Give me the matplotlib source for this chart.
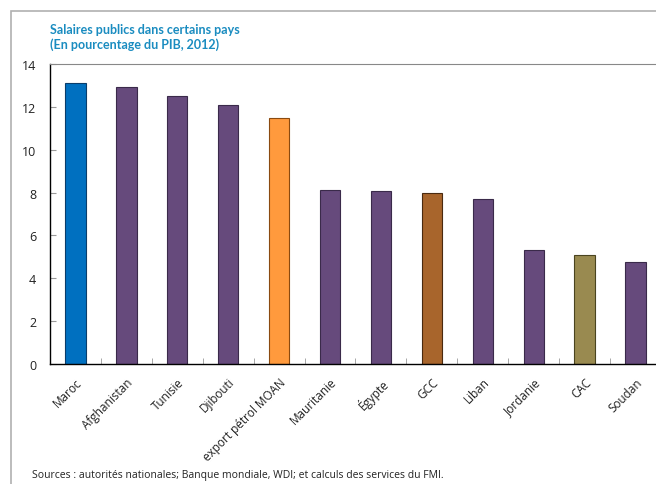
import matplotlib
matplotlib.use("Agg")
import matplotlib.pyplot as plt
from matplotlib.patches import Rectangle
from matplotlib.ticker import MultipleLocator, FixedLocator
from matplotlib.transforms import ScaledTranslation

plt.rcParams['font.family'] = ['Open Sans', 'DejaVu Sans']

pays = ["Maroc", "Afghanistan", "Tunisie", "Djibouti", "export pétrol MOAN",
        "Mauritanie", "Égypte", "GCC", "Liban", "Jordanie", "CAC", "Soudan"]
salaires = [13.1, 12.95, 12.5, 12.1, 11.5, 8.12, 8.08, 8.0, 7.72, 5.3, 5.08, 4.78]
couleurs = ["#0070c0", "#664a7c", "#664a7c", "#664a7c", "#ff9a3d", "#664a7c",
            "#664a7c", "#a8652c", "#664a7c", "#664a7c", "#998a50", "#664a7c"]
bords = ["#0a3d6b", "#3a2a4a", "#3a2a4a", "#3a2a4a", "#8a4a10", "#3a2a4a",
         "#3a2a4a", "#4a2a10", "#3a2a4a", "#3a2a4a", "#4a4420", "#3a2a4a"]

fig = plt.figure(figsize=(6.56, 4.85), dpi=100)
W, H = 656, 485

# cadre gris autour du graphique
fig.patches.append(Rectangle((11 / W, -0.1), 1.2, 1 - 12 / H + 0.1,
                             transform=fig.transFigure, fill=False,
                             edgecolor="#b0b0b0", linewidth=1.2))

ax = fig.add_axes([50 / W, 1 - 365 / H, (661 - 50) / W, (365 - 65) / H])
x = range(len(pays))
ax.bar(x, salaires, width=0.4, color=couleurs, edgecolor=bords, linewidth=0.8)

ax.set_xlim(-0.5, len(pays) - 0.5)
ax.set_ylim(0, 14)
ax.yaxis.set_major_locator(MultipleLocator(2))
ax.set_xticks(list(x))
ax.set_xticklabels(pays, rotation=45, ha="right", rotation_mode="anchor",
                   fontsize=8.5, color="#222222")
decal = ScaledTranslation(-9 / 100, 0, fig.dpi_scale_trans)
for lab in ax.get_xticklabels():
    lab.set_transform(lab.get_transform() + decal)
ax.tick_params(axis="x", which="major", length=0, pad=8)
ax.xaxis.set_minor_locator(FixedLocator([i + 0.5 for i in range(len(pays) - 1)]))
ax.tick_params(axis="x", which="minor", direction="in", length=4, color="#999999")
ax.tick_params(axis="y", direction="in", length=4, color="#999999",
               labelsize=9, labelcolor="#222222", pad=10)

for s in ["left", "bottom"]:
    ax.spines[s].set_color("black")
    ax.spines[s].set_linewidth(1.0)
ax.spines["top"].set_color("#888888")
ax.spines["right"].set_visible(False)

titre = dict(fontsize=9, fontweight="bold", color="#1a8cc0", va="center",
             family=["Lato", "DejaVu Sans"])
fig.text(50 / W, 1 - 30 / H, "Salaires publics dans certains pays", **titre)
fig.text(50 / W, 1 - 45 / H, "(En pourcentage du PIB, 2012)", **titre)
fig.text(32 / W, 1 - 476 / H,
         "Sources : autorités nationales; Banque mondiale, WDI; et calculs des services du FMI.",
         fontsize=7.5, color="#222222", va="center")

fig.savefig("out.png", dpi=100)
